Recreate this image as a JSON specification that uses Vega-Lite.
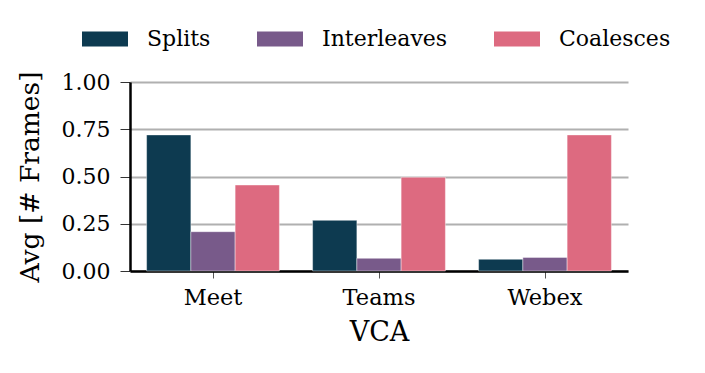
{
  "$schema": "https://vega.github.io/schema/vega-lite/v6.json",
  "autosize": "none",
  "width": 498,
  "height": 189,
  "padding": {"left": 130, "top": 82, "right": 77, "bottom": 102},
  "background": "white",
  "data": {
    "values": [
      {"VCA": "Meet", "type": "Splits", "value": 0.72},
      {"VCA": "Meet", "type": "Interleaves", "value": 0.208},
      {"VCA": "Meet", "type": "Coalesces", "value": 0.455},
      {"VCA": "Teams", "type": "Splits", "value": 0.268},
      {"VCA": "Teams", "type": "Interleaves", "value": 0.067},
      {"VCA": "Teams", "type": "Coalesces", "value": 0.496},
      {"VCA": "Webex", "type": "Splits", "value": 0.062},
      {"VCA": "Webex", "type": "Interleaves", "value": 0.072},
      {"VCA": "Webex", "type": "Coalesces", "value": 0.72}
    ]
  },
  "mark": {"type": "bar", "stroke": "white", "strokeWidth": 0.6, "strokeOpacity": 0.7},
  "encoding": {
    "x": {
      "field": "VCA", "type": "nominal", "sort": ["Meet", "Teams", "Webex"],
      "scale": {"paddingInner": 0.2, "paddingOuter": 0.1},
      "axis": {
        "title": "VCA", "labelAngle": 0, "domainColor": "black", "domainWidth": 2.5,
        "tickColor": "#555", "tickSize": 7, "tickWidth": 1, "labelPadding": 8,
        "labelFontSize": 22.5, "titleFontSize": 27, "titlePadding": 11, "grid": false
      }
    },
    "xOffset": {"field": "type", "type": "nominal", "sort": ["Splits", "Interleaves", "Coalesces"]},
    "y": {
      "field": "value", "type": "quantitative",
      "scale": {"domain": [0, 1]},
      "axis": {
        "title": "Avg [# Frames]", "values": [0, 0.25, 0.5, 0.75, 1], "format": ".2f",
        "domainColor": "black", "domainWidth": 2.5, "tickColor": "#333", "tickSize": 10,
        "tickWidth": 1, "labelPadding": 10, "labelFontSize": 22, "titleFontSize": 26.5,
        "titlePadding": 17, "grid": true, "gridColor": "#b0b0b0", "gridWidth": 2
      }
    },
    "color": {
      "field": "type", "type": "nominal", "sort": ["Splits", "Interleaves", "Coalesces"],
      "scale": {"domain": ["Splits", "Interleaves", "Coalesces"], "range": ["#0d3a50", "#785a8a", "#dd6a80"]},
      "legend": {
        "title": null, "orient": "none", "direction": "horizontal",
        "legendX": -48, "legendY": -66,
        "symbolType": "M-1,-0.326H1V0.326H-1Z", "symbolSize": 2116, "symbolStrokeWidth": 0,
        "symbolOpacity": 1, "labelFont": "DejaVu Serif", "labelFontSize": 22, "labelOffset": 19, "columnPadding": 46,
        "labelLimit": 300
      }
    }
  },
  "config": {
    "font": "DejaVu Serif",
    "view": {"stroke": null},
    "style": {"guide-label": {"font": "DejaVu Serif"}, "guide-title": {"font": "DejaVu Serif"}},
    "axis": {"labelColor": "black", "titleColor": "black", "titleFontWeight": "normal", "labelFont": "DejaVu Serif", "titleFont": "DejaVu Serif"},
    "legend": {"labelColor": "black", "labelFont": "DejaVu Serif"}
  }
}
